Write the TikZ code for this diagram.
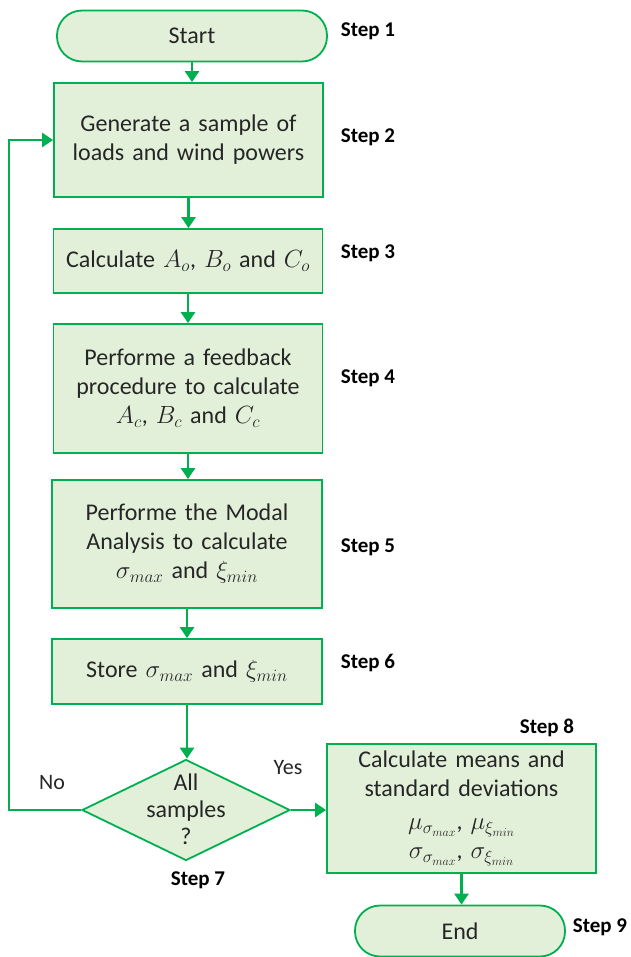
\documentclass[tikz,border=0pt]{standalone}
\usepackage{fontspec}
\setmainfont{Carlito}
\usetikzlibrary{shapes.geometric,arrows.meta}
\definecolor{flowgreen}{HTML}{00B050}
\definecolor{boxfill}{HTML}{E2F0D9}
\definecolor{ink}{HTML}{262626}
% slightly enlarged inline math for the box texts
\newcommand{\bm}[1]{{\fontsize{26}{29}\selectfont\(#1\)}}
\tikzset{
  base/.style={draw=flowgreen, line width=1.8pt, fill=boxfill, text=ink,
    font=\fontsize{24}{29}\selectfont, align=center, inner sep=0pt},
  procbox/.style={base, rectangle, minimum width=269pt, text width=260pt},
  term/.style={base, rectangle, rounded corners=25pt, minimum height=51pt},
  decision/.style={base, diamond, minimum width=208pt, minimum height=101pt},
  flow/.style={draw=flowgreen, line width=2.6pt, -{Triangle[length=11pt,width=14pt]}},
  steplabel/.style={font=\fontsize{21}{24}\selectfont\bfseries, text=black},
  answer/.style={font=\fontsize{22}{26}\selectfont, text=ink}
}
\begin{document}
\begin{tikzpicture}[x=1pt,y=-1pt]
\useasboundingbox (0,0) rectangle (630,957);

% terminals and process boxes
\node[term, minimum width=270pt] (start) at (192,36) {Start};
\node[procbox, minimum height=114pt] (b2) at (188.5,140) {Generate a sample of\\loads and wind powers};
\node[procbox, minimum height=64pt] (b3) at (188,261) {Calculate \bm{A_o}, \bm{B_o} and \bm{C_o}};
\node[procbox, minimum height=129pt] (b4) at (188,388.5) {Performe a feedback\\procedure to calculate\\\bm{A_c}, \bm{B_c} and \bm{C_c}};
\node[procbox, minimum width=270pt, minimum height=128pt] (b5) at (187,544) {Performe the Modal\\Analysis to calculate\\\bm{\sigma_{max}} and \bm{\xi_{min}}};
\node[procbox, minimum width=270pt, minimum height=65pt] (b6) at (187,671.5) {Store \bm{\sigma_{max}} and \bm{\xi_{min}}};

% decision
\node[decision] (dia) at (186,810) {};
\node[text=ink, font=\fontsize{24}{27}\selectfont, align=center] (diatext) at (186,809) {All\\samples\\?};

% final computations
\node[procbox, minimum height=129pt] (b8) at (461.5,808.5)
  {Calculate means and\\standard deviations\\[4pt]
   \bm{\mu_{\sigma_{max}}}, \bm{\mu_{\xi_{min}}}\\
   \bm{\sigma_{\sigma_{max}}}, \bm{\sigma_{\xi_{min}}}};
\node[term, minimum width=210pt] (end) at (460,931) {End};

% connectors
\draw[flow] (start.south) -- (start.south |- b2.north);
\draw[flow] (b2.south) -- (b2.south |- b3.north);
\draw[flow] (b3.south) -- (b3.south |- b4.north);
\draw[flow] (b4.south) -- (b4.south |- b5.north);
\draw[flow] (b5.south) -- (b5.south |- b6.north);
\draw[flow] (b6.south) -- (b6.south |- dia.north);
\draw[flow] (dia.east) -- (dia.east -| b8.west);
\draw[flow] (b8.south) -- (b8.south |- end.north);
\coordinate (loopx) at (9,810);
\draw[flow] (dia.west) -- (loopx) |- (b2.west);

% answers
\node[answer] (yes) at (288,768) {Yes};
\node[answer] (no) at (52,783) {No};

% step labels
\node[steplabel] (s1) at (368,31) {Step 1};
\node[steplabel] (s2) at (368,137) {Step 2};
\node[steplabel] (s3) at (368,253) {Step 3};
\node[steplabel] (s4) at (368,378) {Step 4};
\node[steplabel] (s5) at (368,547) {Step 5};
\node[steplabel] (s6) at (368,663) {Step 6};
\node[steplabel] (s7) at (198,880) {Step 7};
\node[steplabel] (s8) at (547,728) {Step 8};
\node[steplabel] (s9) at (600,927) {Step 9};
\end{tikzpicture}
\end{document}
